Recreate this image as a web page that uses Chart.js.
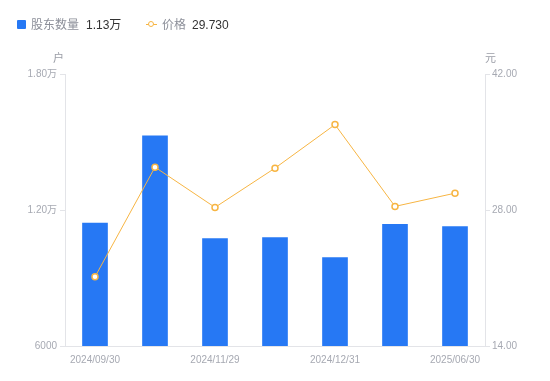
<!DOCTYPE html>
<html>
<head>
<meta charset="utf-8">
<script src="https://cdn.jsdelivr.net/npm/chart.js@4"></script>
<style>
  html, body { margin:0; padding:0; background:#fff; }
  #wrap { position:relative; width:550px; height:381px; font-family:"Liberation Sans","Noto Sans CJK SC",sans-serif; }
  canvas { position:absolute; left:0; top:0; }
  .lg { position:absolute; top:17px; font-size:12px; line-height:16px; white-space:nowrap; }
  .lab { color:#8c8f99; }
  .val { color:#333; }
  .ttl { position:absolute; top:49px; font-size:11px; color:#9a9da6; }
</style>
</head>
<body>
<div id="wrap">
  <canvas id="c" width="550" height="381"></canvas>
  <div style="position:absolute;left:17px;top:20px;width:9px;height:9px;background:#2678f4;border-radius:1px;"></div>
  <div class="lg lab" style="left:31px;">股东数量</div>
  <div class="lg val" style="left:86px;">1.13万</div>
  <div style="position:absolute;left:146px;top:24px;width:11px;height:1px;background:#f7b543;"></div>
  <div style="position:absolute;left:148px;top:21px;width:4px;height:4px;border:1.5px solid #f7b543;border-radius:50%;background:#fff;"></div>
  <div class="lg lab" style="left:162px;">价格</div>
  <div class="lg val" style="left:192px;">29.730</div>
  <div class="ttl" style="left:53px;">户</div>
  <div class="ttl" style="left:485px;">元</div>
</div>
<script>
const categories = ['2024/09/30','2024/10/31','2024/11/29','2024/12/10','2024/12/31','2025/03/31','2025/06/30'];
const holders = [11420, 15270, 10740, 10780, 9900, 11370, 11270];
const prices = [21.12, 32.41, 28.27, 32.31, 36.79, 28.37, 29.73];
const leftTicks = [6000, 12000, 18000];
const rightTicks = [14, 28, 42];

const labelFont = { family: '"Liberation Sans","Noto Sans CJK SC",sans-serif', size: 10 };
const labelColor = '#a6a9b2';
const lineGray = '#e3e4e8';

new Chart(document.getElementById('c'), {
  data: {
    labels: categories,
    datasets: [
      { type:'line', label:'价格', data: prices, yAxisID:'y1', order:0,
        borderColor:'#f7b543', borderWidth:1, tension:0,
        pointRadius:3, pointHoverRadius:3, pointBorderWidth:1.5,
        pointBorderColor:'#f7b543', pointBackgroundColor:'#ffffff' },
      { type:'bar', label:'股东数量', data: holders, yAxisID:'y', order:1,
        backgroundColor:'#2678f4', barThickness:25 }
    ]
  },
  options: {
    responsive:false, animation:false,
    layout:{ padding:{ top:74, left:0, right:0, bottom:0 } },
    plugins:{ legend:{ display:false }, tooltip:{ enabled:false } },
    scales:{
      x:{
        offset:true,
        grid:{ display:true, drawOnChartArea:false, drawTicks:false, color:lineGray },
        border:{ display:true, color:lineGray },
        ticks:{ autoSkip:false, maxRotation:0, padding:8, font:labelFont, color:labelColor,
          callback:function(v,i){ return i%2===0 ? categories[i] : ''; } },
        afterFit:function(s){ s.height = 35; }
      },
      y:{
        position:'left', min:leftTicks[0], max:leftTicks[leftTicks.length-1],
        afterBuildTicks:function(s){ s.ticks = leftTicks.map(v=>({value:v})); },
        grid:{ drawOnChartArea:false, tickLength:5, color:lineGray },
        border:{ display:true, color:lineGray },
        ticks:{ padding:3, font:labelFont, color:labelColor,
          callback:function(v){ return v===6000 ? '6000' : (v/10000).toFixed(2)+'万'; } },
        afterFit:function(s){ s.width = 65; }
      },
      y1:{
        position:'right', min:rightTicks[0], max:rightTicks[rightTicks.length-1],
        afterBuildTicks:function(s){ s.ticks = rightTicks.map(v=>({value:v})); },
        grid:{ drawOnChartArea:false, tickLength:5, color:lineGray },
        border:{ display:true, color:lineGray },
        ticks:{ padding:2, font:labelFont, color:labelColor,
          callback:function(v){ return Number(v).toFixed(2); } },
        afterFit:function(s){ s.width = 65; }
      }
    }
  }
});
</script>
</body>
</html>
